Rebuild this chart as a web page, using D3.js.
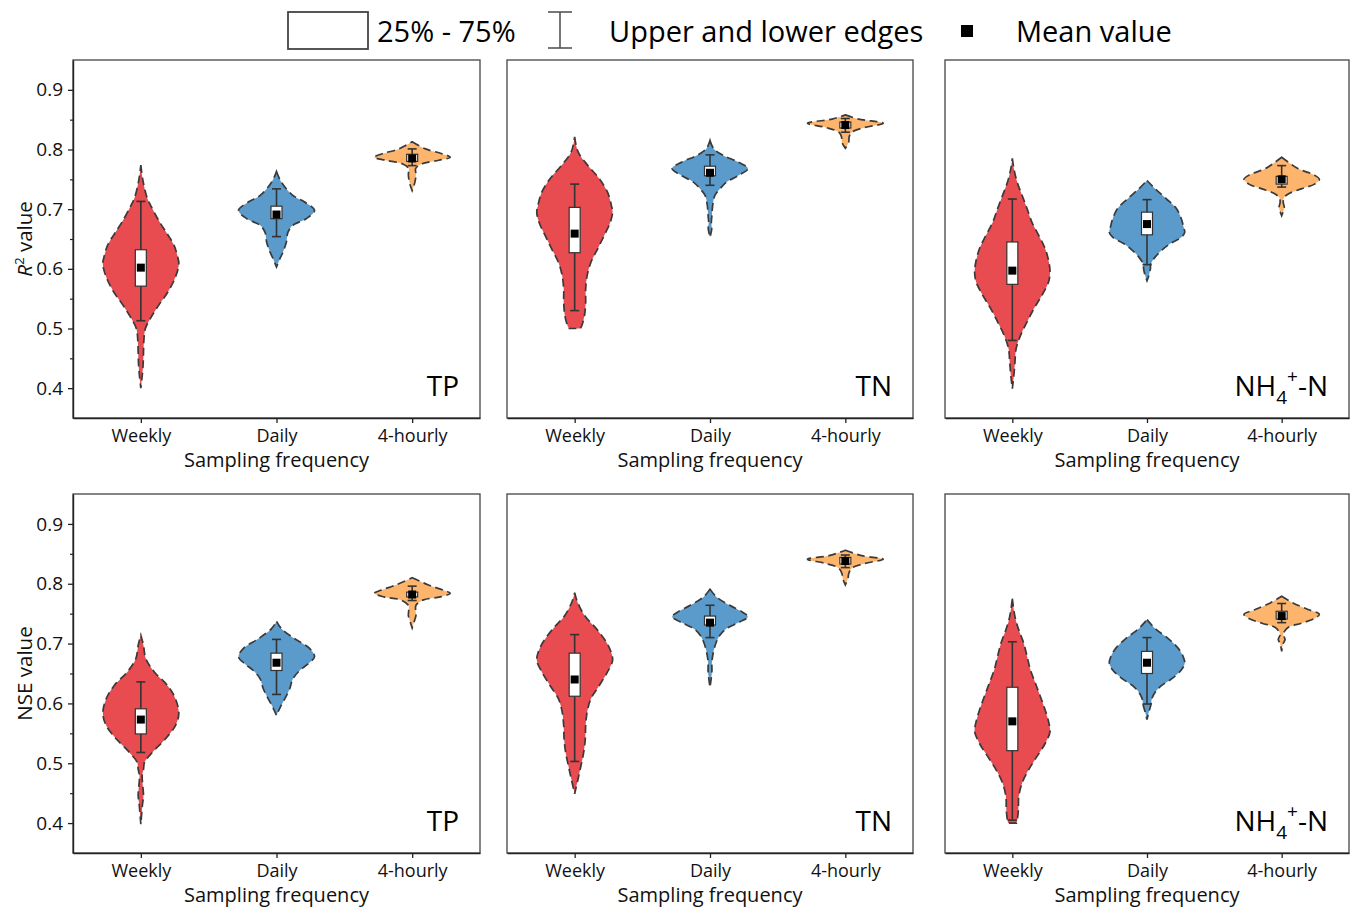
<!DOCTYPE html>
<html>
<head>
<meta charset="utf-8">
<script src="https://cdn.jsdelivr.net/npm/d3@7/dist/d3.min.js"></script>
<style>
  html, body { margin: 0; padding: 0; background: #fff; }
  svg { display: block; font-family: "Open Sans", sans-serif; }
</style>
</head>
<body>
<svg id="chart" width="1354" height="907"></svg>
<script>
// ---- categories and ticks ----
const categories = ["Weekly", "Daily", "4-hourly"];
const yMajorTicks = [0.4, 0.5, 0.6, 0.7, 0.8, 0.9];
const yMinorTicks = [0.45, 0.55, 0.65, 0.75, 0.85];
const colors = ["#E84B50", "#5B9BCC", "#FDB56D"];
const xTitle = "Sampling frequency";

// ---- violin density profiles: [value, relative half-width] ----
const violinR2TP = [
  [[0.774,0],[0.75,0.05],[0.72,0.16],[0.706,0.26],[0.68,0.48],[0.66,0.68],[0.64,0.87],[0.62,0.97],[0.61,1],[0.60,0.98],[0.58,0.87],[0.56,0.70],[0.54,0.48],[0.52,0.28],[0.50,0.12],[0.48,0.08],[0.46,0.07],[0.44,0.06],[0.42,0.035],[0.40,0]],
  [[0.763,0],[0.745,0.13],[0.723,0.43],[0.712,0.74],[0.698,1],[0.684,0.78],[0.673,0.43],[0.661,0.30],[0.645,0.26],[0.628,0.17],[0.617,0.09],[0.603,0]],
  [[0.813,0],[0.801,0.35],[0.793,0.78],[0.787,1],[0.782,0.70],[0.776,0.26],[0.768,0.09],[0.759,0.10],[0.751,0.09],[0.740,0.05],[0.731,0]]
];
const violinR2TN = [
  [[0.821,0],[0.796,0.09],[0.773,0.35],[0.751,0.65],[0.728,0.87],[0.706,0.97],[0.695,1],[0.678,0.94],[0.656,0.78],[0.634,0.61],[0.611,0.43],[0.589,0.33],[0.566,0.29],[0.544,0.29],[0.522,0.26],[0.505,0.19],[0.50,0.15]],
  [[0.815,0],[0.801,0.10],[0.790,0.35],[0.779,0.74],[0.768,1],[0.756,0.74],[0.745,0.43],[0.734,0.26],[0.723,0.13],[0.706,0.07],[0.689,0.05],[0.678,0.035],[0.667,0.045],[0.653,0]],
  [[0.858,0],[0.851,0.35],[0.844,1],[0.837,0.52],[0.829,0.17],[0.821,0.10],[0.812,0.09],[0.802,0]]
];
const violinR2NH4 = [
  [[0.785,0],[0.768,0.04],[0.745,0.13],[0.723,0.26],[0.701,0.39],[0.678,0.52],[0.656,0.70],[0.634,0.87],[0.611,0.97],[0.594,1],[0.578,0.96],[0.555,0.78],[0.533,0.57],[0.511,0.39],[0.489,0.22],[0.466,0.10],[0.444,0.07],[0.421,0.04],[0.399,0]],
  [[0.748,0],[0.734,0.22],[0.717,0.52],[0.701,0.78],[0.684,0.91],[0.670,0.97],[0.661,1],[0.653,0.91],[0.642,0.61],[0.631,0.39],[0.620,0.22],[0.608,0.10],[0.600,0.09],[0.589,0.05],[0.580,0]],
  [[0.787,0],[0.779,0.17],[0.768,0.43],[0.757,0.87],[0.750,1],[0.742,0.87],[0.734,0.52],[0.727,0.22],[0.720,0.07],[0.712,0.04],[0.703,0.07],[0.695,0.035],[0.689,0]]
];
const violinNseTP = [
  [[0.714,0],[0.697,0.07],[0.675,0.13],[0.653,0.35],[0.630,0.70],[0.608,0.91],[0.583,1],[0.563,0.91],[0.541,0.65],[0.518,0.30],[0.502,0.10],[0.490,0.07],[0.479,0.035],[0.463,0.05],[0.446,0.07],[0.429,0.04],[0.398,0]],
  [[0.737,0],[0.725,0.13],[0.708,0.48],[0.692,0.87],[0.678,1],[0.666,0.83],[0.655,0.61],[0.641,0.43],[0.625,0.35],[0.608,0.22],[0.594,0.10],[0.580,0]],
  [[0.810,0],[0.798,0.43],[0.789,0.83],[0.784,1],[0.778,0.74],[0.773,0.30],[0.764,0.10],[0.756,0.09],[0.747,0.10],[0.736,0.05],[0.726,0]]
];
const violinNseTN = [
  [[0.785,0],[0.770,0.07],[0.747,0.26],[0.725,0.57],[0.703,0.83],[0.686,0.96],[0.672,1],[0.653,0.87],[0.630,0.65],[0.608,0.43],[0.586,0.33],[0.563,0.29],[0.541,0.28],[0.519,0.24],[0.497,0.17],[0.474,0.09],[0.449,0]],
  [[0.791,0],[0.778,0.17],[0.764,0.52],[0.752,0.87],[0.745,1],[0.736,0.78],[0.725,0.43],[0.714,0.26],[0.703,0.17],[0.686,0.09],[0.669,0.05],[0.653,0.05],[0.627,0]],
  [[0.856,0],[0.847,0.43],[0.841,1],[0.834,0.52],[0.826,0.17],[0.817,0.09],[0.809,0.07],[0.798,0]]
];
const violinNseNH4 = [
  [[0.775,0],[0.745,0.07],[0.723,0.17],[0.701,0.30],[0.679,0.39],[0.656,0.48],[0.634,0.61],[0.612,0.74],[0.589,0.87],[0.567,0.97],[0.553,1],[0.533,0.87],[0.511,0.65],[0.489,0.43],[0.467,0.26],[0.444,0.17],[0.422,0.16],[0.405,0.13],[0.400,0.11]],
  [[0.740,0],[0.725,0.22],[0.708,0.57],[0.692,0.83],[0.678,0.96],[0.667,1],[0.656,0.91],[0.641,0.65],[0.630,0.39],[0.619,0.22],[0.608,0.13],[0.597,0.10],[0.586,0.05],[0.573,0]],
  [[0.779,0],[0.768,0.30],[0.757,0.70],[0.749,1],[0.742,0.87],[0.734,0.52],[0.727,0.17],[0.720,0.07],[0.715,0.04],[0.707,0.09],[0.700,0.04],[0.687,0]]
];

// ---- box statistics: [lower edge, Q1, mean, Q3, upper edge] ----
const statsR2TP   = [[0.513,0.571,0.602,0.632,0.713],[0.654,0.684,0.691,0.705,0.734],[0.773,0.780,0.785,0.792,0.801]];
const statsR2TN   = [[0.530,0.627,0.659,0.703,0.742],[0.740,0.756,0.761,0.772,0.791],[0.829,0.836,0.841,0.846,0.852]];
const statsR2NH4  = [[0.480,0.574,0.597,0.645,0.717],[0.607,0.657,0.675,0.695,0.716],[0.737,0.742,0.750,0.755,0.773]];
const statsNseTP  = [[0.518,0.549,0.573,0.591,0.636],[0.615,0.655,0.668,0.684,0.707],[0.772,0.778,0.782,0.786,0.796]];
const statsNseTN  = [[0.503,0.612,0.640,0.684,0.715],[0.710,0.731,0.735,0.746,0.764],[0.827,0.833,0.838,0.844,0.848]];
const statsNseNH4 = [[0.405,0.521,0.570,0.627,0.703],[0.599,0.650,0.668,0.687,0.710],[0.735,0.741,0.746,0.754,0.767]];

// ---- panel layout ----
const colX = [[73, 480], [507, 913], [945, 1349]];
const rowY = [[60, 418], [494, 853]];
const yDomain = [0.35, 0.95];

const panels = [
  { row: 0, col: 0, label: "TP",  violins: violinR2TP,   stats: statsR2TP,   yTitle: "R2" },
  { row: 0, col: 1, label: "TN",  violins: violinR2TN,   stats: statsR2TN },
  { row: 0, col: 2, label: "NH4", violins: violinR2NH4,  stats: statsR2NH4 },
  { row: 1, col: 0, label: "TP",  violins: violinNseTP,  stats: statsNseTP,  yTitle: "NSE" },
  { row: 1, col: 1, label: "TN",  violins: violinNseTN,  stats: statsNseTN },
  { row: 1, col: 2, label: "NH4", violins: violinNseNH4, stats: statsNseNH4 }
];

const svg = d3.select("#chart");
const ink = "#333";

panels.forEach(p => {
  const [x0, x1] = colX[p.col];
  const [y0, y1] = rowY[p.row];
  const g = svg.append("g");

  const x = d3.scalePoint().domain(categories).range([x0, x1]).padding(0.5);
  const y = d3.scaleLinear().domain(yDomain).range([y1, y0]);
  const halfW = d3.scaleLinear().domain([0, 1]).range([0, x.step() * 0.28]);

  // frame
  g.append("rect")
    .attr("x", x0).attr("y", y0)
    .attr("width", x1 - x0).attr("height", y1 - y0)
    .attr("fill", "none").attr("stroke", "#444").attr("stroke-width", 1.3);

  // violins
  p.violins.forEach((prof, i) => {
    const cx = x(categories[i]);
    const area = d3.area()
      .y(d => y(d[0]))
      .x0(d => cx - halfW(d[1]))
      .x1(d => cx + halfW(d[1]))
      .curve(d3.curveCatmullRom.alpha(0.5));
    g.append("path")
      .attr("d", area(prof))
      .attr("fill", colors[i])
      .attr("stroke", "#3a3a3a")
      .attr("stroke-width", 1.7)
      .attr("stroke-dasharray", "8,4.5");
  });

  // box, whiskers, mean
  p.stats.forEach((s, i) => {
    const cx = x(categories[i]);
    const [lo, q1, mean, q3, hi] = s;
    const bw = 11, cw = 9, ms = 8;
    g.append("line").attr("x1", cx).attr("x2", cx)
      .attr("y1", y(hi)).attr("y2", y(lo))
      .attr("stroke", ink).attr("stroke-width", 1.6);
    [lo, hi].forEach(v => {
      g.append("line").attr("x1", cx - cw / 2).attr("x2", cx + cw / 2)
        .attr("y1", y(v)).attr("y2", y(v))
        .attr("stroke", ink).attr("stroke-width", 1.6);
    });
    g.append("rect")
      .attr("x", cx - bw / 2).attr("y", y(q3))
      .attr("width", bw).attr("height", y(q1) - y(q3))
      .attr("fill", "#fff").attr("stroke", ink).attr("stroke-width", 1.2);
    g.append("rect")
      .attr("x", cx - ms / 2).attr("y", y(mean) - ms / 2)
      .attr("width", ms).attr("height", ms)
      .attr("fill", "#000");
  });

  // bottom axis
  const xAxis = g.append("g")
    .attr("transform", `translate(0,${y1})`)
    .call(d3.axisBottom(x).tickSize(5).tickPadding(6).tickSizeOuter(0));
  xAxis.select(".domain").attr("stroke", "#222").attr("stroke-width", 1.4);
  xAxis.selectAll(".tick line").attr("stroke", "#222").attr("stroke-width", 1.3);
  xAxis.selectAll(".tick text")
    .attr("font-size", 18).attr("fill", "#111")
    .attr("font-family", "'Open Sans', sans-serif");

  g.append("text")
    .attr("x", (x0 + x1) / 2).attr("y", y1 + 49)
    .attr("text-anchor", "middle")
    .attr("font-size", 20).attr("fill", "#111")
    .text(xTitle);

  // left axis with labels only on the first column
  if (p.col === 0) {
    const yAxis = g.append("g")
      .attr("transform", `translate(${x0},0)`)
      .call(d3.axisLeft(y).tickValues(yMajorTicks).tickFormat(d3.format(".1f"))
        .tickSize(5).tickPadding(5).tickSizeOuter(0));
    yAxis.select(".domain").attr("stroke", "#222").attr("stroke-width", 1.4);
    yAxis.selectAll(".tick line").attr("stroke", "#222").attr("stroke-width", 1.3);
    yAxis.selectAll(".tick text")
      .attr("font-size", 19).attr("fill", "#111")
      .attr("font-family", "'Open Sans', sans-serif");
    g.append("g")
      .attr("transform", `translate(${x0},0)`)
      .call(d3.axisLeft(y).tickValues(yMinorTicks).tickFormat("").tickSize(3).tickSizeOuter(0))
      .call(a => a.select(".domain").remove())
      .selectAll(".tick line").attr("stroke", "#222").attr("stroke-width", 1.2);

    const yt = g.append("text")
      .attr("transform", `translate(32,${(y0 + y1) / 2}) rotate(-90)`)
      .attr("text-anchor", "middle")
      .attr("font-size", 20.5).attr("fill", "#111");
    if (p.yTitle === "R2") {
      yt.append("tspan").attr("font-style", "italic").text("R");
      yt.append("tspan").attr("font-size", 13.5).attr("dy", -8).text("2");
      yt.append("tspan").attr("dy", 8).text(" value");
    } else {
      yt.text("NSE value");
    }
  }

  // nutrient label
  const lab = g.append("text")
    .attr("x", x1 - 21).attr("y", y1 - 22)
    .attr("text-anchor", "end")
    .attr("font-size", 28).attr("fill", "#000");
  if (p.label === "NH4") {
    lab.append("tspan").text("NH");
    lab.append("tspan").attr("font-size", 19).attr("dy", 8).text("4");
    lab.append("tspan").attr("font-size", 19).attr("dy", -21).text("+");
    lab.append("tspan").attr("dy", 13).text("-N");
  } else {
    lab.text(p.label);
  }
});

// ---- legend ----
const leg = svg.append("g").attr("font-size", 29).attr("fill", "#000");
leg.append("rect").attr("x", 288).attr("y", 12).attr("width", 80).attr("height", 37)
  .attr("fill", "#fff").attr("stroke", "#444").attr("stroke-width", 1.8);
leg.append("text").attr("x", 377).attr("y", 42).text("25% - 75%");
const ib = leg.append("g").attr("stroke", "#555").attr("stroke-width", 1.6);
ib.append("line").attr("x1", 560).attr("x2", 560).attr("y1", 12).attr("y2", 48);
ib.append("line").attr("x1", 548).attr("x2", 572).attr("y1", 12).attr("y2", 12);
ib.append("line").attr("x1", 548).attr("x2", 572).attr("y1", 48).attr("y2", 48);
leg.append("text").attr("x", 609).attr("y", 42).text("Upper and lower edges");
leg.append("rect").attr("x", 961).attr("y", 25).attr("width", 12).attr("height", 12).attr("fill", "#000");
leg.append("text").attr("x", 1016).attr("y", 42).text("Mean value");
</script>
</body>
</html>
